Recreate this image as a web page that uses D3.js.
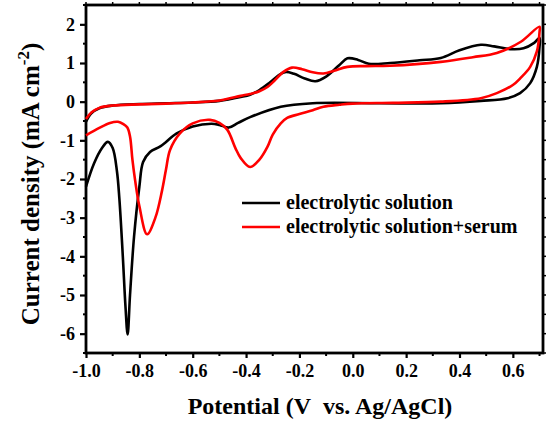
<!DOCTYPE html>
<html><head><meta charset="utf-8">
<script src="https://cdn.jsdelivr.net/npm/d3@7"></script>
<style>body{margin:0;background:#fff}svg{display:block}</style>
</head><body>
<svg id="chart" width="551" height="424"></svg>
<script>
// ---- data ----
const xTicks = [-1.0,-0.8,-0.6,-0.4,-0.2,0.0,0.2,0.4,0.6];
const yTicks = [-6,-5,-4,-3,-2,-1,0,1,2];
const seriesNames = ["electrolytic solution","electrolytic solution+serum"];
const seriesColors = ["#000000","#ff0000"];

const blackUpperV = [-1.0,-0.98,-0.95,-0.9,-0.8,-0.7,-0.6,-0.5,-0.42,-0.385,-0.35,-0.31,-0.27,-0.25,-0.22,-0.18,-0.14,-0.1,-0.05,-0.02,0.02,0.06,0.14,0.25,0.33,0.40,0.48,0.53,0.59,0.64,0.68,0.70];
const blackUpperI = [-0.52,-0.3,-0.17,-0.1,-0.06,-0.04,-0.02,0.02,0.12,0.18,0.3,0.5,0.72,0.77,0.72,0.6,0.53,0.65,0.95,1.12,1.08,0.98,1.0,1.07,1.13,1.33,1.47,1.43,1.36,1.38,1.52,1.65];
const blackLowerV = [0.70,0.69,0.665,0.627,0.58,0.48,0.33,0.1,-0.15,-0.27,-0.385,-0.43,-0.465,-0.5,-0.53,-0.6,-0.66,-0.72,-0.76,-0.786,-0.80,-0.82,-0.835,-0.844,-0.852,-0.862,-0.875,-0.884,-0.9,-0.918,-0.94,-0.97,-1.0];
const blackLowerI = [1.42,0.9,0.48,0.22,0.09,0.02,-0.04,-0.04,-0.04,-0.13,-0.4,-0.55,-0.67,-0.6,-0.57,-0.64,-0.82,-1.15,-1.3,-1.56,-2.2,-3.5,-5.0,-6.02,-5.3,-4.0,-2.5,-1.8,-1.2,-1.04,-1.2,-1.6,-2.2];

const redUpperV = [-1.0,-0.98,-0.95,-0.9,-0.8,-0.7,-0.6,-0.5,-0.42,-0.385,-0.35,-0.32,-0.3,-0.26,-0.228,-0.19,-0.15,-0.11,-0.07,-0.02,0.05,0.14,0.33,0.45,0.54,0.63,0.70];
const redUpperI = [-0.45,-0.28,-0.16,-0.1,-0.07,-0.05,-0.02,0.03,0.15,0.2,0.27,0.38,0.5,0.77,0.88,0.84,0.76,0.73,0.8,0.9,0.92,0.93,1.03,1.15,1.26,1.55,1.94];
const redLowerV = [0.70,0.69,0.665,0.63,0.6,0.54,0.48,0.33,0.15,0.0,-0.05,-0.11,-0.15,-0.2,-0.246,-0.27,-0.30,-0.32,-0.35,-0.385,-0.42,-0.44,-0.47,-0.50,-0.535,-0.60,-0.648,-0.685,-0.70,-0.715,-0.74,-0.771,-0.80,-0.816,-0.826,-0.835,-0.845,-0.86,-0.88,-0.91,-0.95,-1.0];
const redLowerI = [1.8,1.3,0.9,0.62,0.43,0.22,0.09,0.0,-0.03,-0.05,-0.08,-0.13,-0.22,-0.32,-0.42,-0.56,-0.85,-1.17,-1.5,-1.69,-1.46,-1.2,-0.73,-0.55,-0.47,-0.56,-0.82,-1.25,-1.75,-2.3,-3.0,-3.43,-2.7,-2.03,-1.5,-0.9,-0.67,-0.58,-0.52,-0.55,-0.68,-0.87];

// ---- layout ----
const L = 86, R = 543, T = 5, B = 353;
const FONT = "'Liberation Serif','Times New Roman',serif";
const svg = d3.select("#chart");
const x = d3.scaleLinear().domain([-1.0, 0.713]).range([L, R]);
const y = d3.scaleLinear().domain([-6.5, 2.5]).range([B, T]);
const fmtX = d => d3.format(".1f")(d).replace("\u2212","-");
const fmtY = d => String(d).replace("\u2212","-");

const minorX = d3.range(-0.9, 0.71, 0.2).map(v => +v.toFixed(1));
const allX = d3.range(-1.0, 0.71, 0.1).map(v => +v.toFixed(1));
const minorY = d3.range(-6.5, 2.6, 1).map(v => +v.toFixed(1));

// bottom axis
const gx = svg.append("g").attr("transform", `translate(0,${B})`)
  .call(d3.axisBottom(x).tickValues(xTicks).tickFormat(fmtX).tickSize(5).tickSizeOuter(0).tickPadding(6));
gx.append("g").selectAll("line").data(minorX).join("line")
  .attr("x1", d => x(d)).attr("x2", d => x(d)).attr("y1", 0).attr("y2", 3).attr("stroke", "#000").attr("stroke-width", 2);
// left axis
const gy = svg.append("g").attr("transform", `translate(${L},0)`)
  .call(d3.axisLeft(y).tickValues(yTicks).tickFormat(fmtY).tickSize(6).tickSizeOuter(0).tickPadding(5));
gy.append("g").selectAll("line").data(minorY).join("line")
  .attr("y1", d => y(d)).attr("y2", d => y(d)).attr("x1", 0).attr("x2", -3).attr("stroke", "#000").attr("stroke-width", 2);
// top / right small ticks
svg.append("g").selectAll("line").data(allX).join("line")
  .attr("x1", d => x(d)).attr("x2", d => x(d)).attr("y1", T).attr("y2", T - 3).attr("stroke", "#000").attr("stroke-width", 1.5);
svg.append("g").selectAll("line").data(minorY.concat(yTicks)).join("line")
  .attr("y1", d => y(d)).attr("y2", d => y(d)).attr("x1", R).attr("x2", R + 3).attr("stroke", "#000").attr("stroke-width", 1.5);

[gx, gy].forEach(g => {
  g.select(".domain").remove();
  g.selectAll(".tick line").attr("stroke", "#000").attr("stroke-width", 2.2);
  g.selectAll("text").attr("fill", "#000").style("font-family", FONT).style("font-weight", "bold").style("font-size", "18px");
});

// frame
svg.append("rect").attr("x", L).attr("y", T).attr("width", R - L).attr("height", B - T)
  .attr("fill", "none").attr("stroke", "#000").attr("stroke-width", 2.8);

// curves
const line = d3.line().x(d => x(d[0])).y(d => y(d[1])).curve(d3.curveCatmullRom.alpha(0.5));
const zip = (a, b) => a.map((v, i) => [v, b[i]]);
const black = zip(blackUpperV, blackUpperI).concat(zip(blackLowerV, blackLowerI));
const red = zip(redUpperV, redUpperI).concat(zip(redLowerV, redLowerI));
const plot = svg.append("g");
[black, red].forEach((pts, i) => {
  plot.append("path").attr("d", line(pts)).attr("fill", "none")
    .attr("stroke", seriesColors[i]).attr("stroke-width", 2.6).attr("stroke-linejoin", "round");
});

// legend
const leg = svg.append("g");
seriesNames.forEach((name, i) => {
  const ly = 203 + i * 24;
  leg.append("line").attr("x1", 242).attr("x2", 280).attr("y1", ly).attr("y2", ly)
    .attr("stroke", seriesColors[i]).attr("stroke-width", 2.6);
  leg.append("text").attr("x", 286).attr("y", ly + 6).text(name)
    .style("font-family", FONT).style("font-weight", "bold").style("font-size", "20px").attr("fill", "#000");
});

// axis titles
svg.append("text").attr("x", 320).attr("y", 414).attr("text-anchor", "middle")
  .style("font-family", FONT).style("font-weight", "bold").style("font-size", "24px")
  .text("Potential (V\u00a0 vs. Ag/AgCl)");
const yt = svg.append("text").attr("transform", "translate(39,184) rotate(-90)").attr("text-anchor", "middle")
  .style("font-family", FONT).style("font-weight", "bold").style("font-size", "25px");
yt.append("tspan").text("Current density (mA cm");
yt.append("tspan").attr("dy", -10).style("font-size", "17px").text("-2");
yt.append("tspan").attr("dy", 10).text(")");
</script>
</body></html>
